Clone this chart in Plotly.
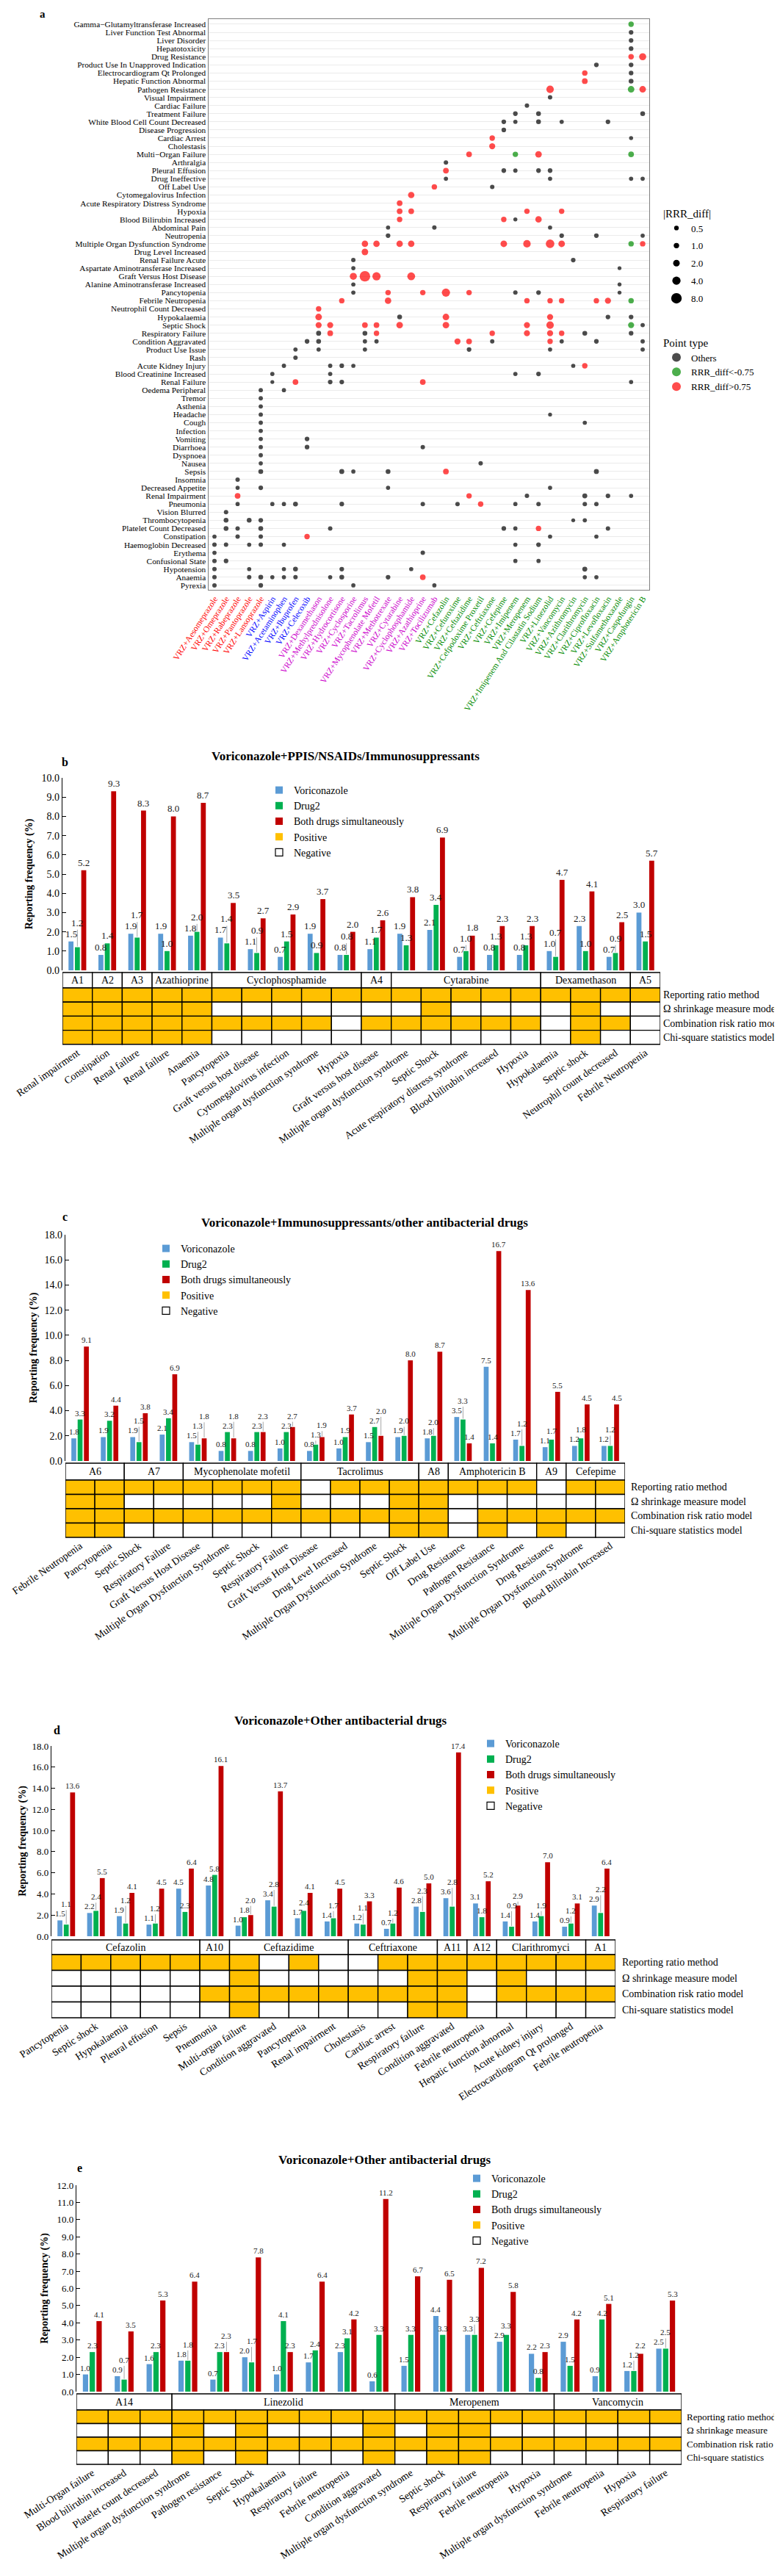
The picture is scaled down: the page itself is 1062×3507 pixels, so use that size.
import math
import plotly.graph_objects as go

W, H = 1062, 3507
SERIF = "Liberation Serif"


def fx(p):
    return p / W


def fy(p):
    return 1 - p / H


# ======================= Panel a data =======================
a_drugs = ["VRZ+Aesomeprazole", "VRZ+Omeprazole", "VRZ+Rabeprazole", "VRZ+Pantoprazole", "VRZ+Lansoprazole",
           "VRZ+Aspirin", "VRZ+Acetaminophen", "VRZ+Ibuprofen", "VRZ+Celecoxib",
           "VRZ+Dexamethason", "VRZ+Methylprednisolone", "VRZ+Hydrocortisone", "VRZ+Cyclosporine",
           "VRZ+Tacrolimus", "VRZ+Mycophenolate Mofetil", "VRZ+Methotrexate", "VRZ+Cytarabine",
           "VRZ+Cyclophosphamide", "VRZ+Azathioprine", "VRZ+Tocilizumab",
           "VRZ+Cefazolin", "VRZ+Cefuroxime", "VRZ+Ceftazidime", "VRZ+Cefpodoxime Proxetil", "VRZ+Ceftriaxone",
           "VRZ+Cefepime", "VRZ+Imipenem", "VRZ+Meropenem", "VRZ+Imipenem And Cilastatin Sodium",
           "VRZ+Linezolid", "VRZ+Vancomycin", "VRZ+Azithromycin", "VRZ+Clarithromycin", "VRZ+Ciprofloxacin",
           "VRZ+Levofloxacin", "VRZ+Sulfamethoxazole", "VRZ+Caspofungin", "VRZ+Amphotericin B"]
a_drug_class = ["PPI", "PPI", "PPI", "PPI", "PPI",
                "NSAID", "NSAID", "NSAID", "NSAID",
                "IMM", "IMM", "IMM", "IMM", "IMM", "IMM", "IMM", "IMM", "IMM", "IMM", "IMM",
                "ABX", "ABX", "ABX", "ABX", "ABX", "ABX", "ABX", "ABX", "ABX", "ABX", "ABX", "ABX",
                "ABX", "ABX", "ABX", "ABX", "ABX", "ABX"]
a_events = ["Gamma−Glutamyltransferase Increased", "Liver Function Test Abnormal", "Liver Disorder",
            "Hepatotoxicity", "Drug Resistance", "Product Use In Unapproved Indication",
            "Electrocardiogram Qt Prolonged", "Hepatic Function Abnormal", "Pathogen Resistance",
            "Visual Impairment", "Cardiac Failure", "Treatment Failure", "White Blood Cell Count Decreased",
            "Disease Progression", "Cardiac Arrest", "Cholestasis", "Multi−Organ Failure", "Arthralgia",
            "Pleural Effusion", "Drug Ineffective", "Off Label Use", "Cytomegalovirus Infection",
            "Acute Respiratory Distress Syndrome", "Hypoxia", "Blood Bilirubin Increased", "Abdominal Pain",
            "Neutropenia", "Multiple Organ Dysfunction Syndrome", "Drug Level Increased", "Renal Failure Acute",
            "Aspartate Aminotransferase Increased", "Graft Versus Host Disease",
            "Alanine Aminotransferase Increased", "Pancytopenia", "Febrile Neutropenia",
            "Neutrophil Count Decreased", "Hypokalaemia", "Septic Shock", "Respiratory Failure",
            "Condition Aggravated", "Product Use Issue", "Rash", "Acute Kidney Injury",
            "Blood Creatinine Increased", "Renal Failure", "Oedema Peripheral", "Tremor", "Asthenia", "Headache",
            "Cough", "Infection", "Vomiting", "Diarrhoea", "Dyspnoea", "Nausea", "Sepsis", "Insomnia",
            "Decreased Appetite", "Renal Impairment", "Pneumonia", "Vision Blurred", "Thrombocytopenia",
            "Platelet Count Decreased", "Constipation", "Haemoglobin Decreased", "Erythema",
            "Confusional State", "Hypotension", "Anaemia", "Pyrexia"]
# drug column numbers (1-based) of the dots on each event row, top to bottom
a_dot_cols = [
    [37], [37], [37], [37], [37, 38], [34, 37], [33, 37], [33, 37], [30, 37, 38], [30],
    [28], [27, 29, 38], [26, 27, 29, 31, 35], [26], [25, 37], [25], [23, 27, 29, 37], [21],
    [21, 26, 27, 29, 30], [21, 30, 37, 38], [20, 25], [18], [17], [17, 18, 28, 31], [17, 26, 27, 29],
    [16, 20, 30], [16, 31, 34, 38], [14, 15, 17, 18, 26, 28, 30, 31, 37, 38], [14], [13, 32], [13, 36],
    [13, 14, 15, 18], [13, 36], [13, 16, 19, 21, 23, 27, 29, 36], [12, 16, 28, 30, 31, 34, 35, 37], [10],
    [10, 17, 21, 30, 35, 37], [10, 11, 14, 15, 17, 21, 28, 30, 37, 38], [10, 11, 14, 15, 25, 28, 30, 31, 33, 37],
    [9, 10, 14, 15, 22, 23, 25, 30, 31, 34, 38], [8, 10, 14, 23, 30, 38], [8], [7, 11, 12, 13, 32, 33],
    [6, 11, 27, 29], [6, 8, 11, 12, 19, 37], [5, 7], [5], [5], [5, 30], [5, 33], [5], [5, 9], [5, 9, 19], [5],
    [5, 24], [5, 12, 13, 16, 21, 34], [3], [3, 5, 16, 30], [3, 23, 28, 33, 35, 37],
    [3, 6, 7, 8, 12, 19, 22, 24, 27, 29, 33, 34], [2], [2, 4, 5, 32, 33], [2, 3, 5, 11, 26, 27, 29, 35],
    [1, 3, 5, 9, 30, 34], [1, 2, 4, 5, 7, 27, 29], [1, 19], [1, 2, 27, 29], [1, 4, 7, 8, 12, 18, 33],
    [1, 4, 5, 6, 7, 8, 11, 12, 16, 19, 33, 34], [1, 5, 13, 20]]
# RRR_diff of those dots (same layout)
a_dot_rrr = [
    [-1.0], [0.5], [0.5], [0.5], [1.0, 2.5], [0.5, 0.5], [1.0, 0.5], [1.2, 0.6], [3.0, -2.0, 2.0], [0.4],
    [0.4], [0.5, 0.6, 0.6], [0.5, 0.35, 0.6, 0.35, 0.5], [0.5], [1.0, 0.25], [1.5], [1.2, -1.0, 2.0, -1.2], [0.4],
    [1.2, 0.5, 0.35, 0.5, 0.5], [0.3, 0.3, 0.3, 0.3], [1.0, 0.4], [1.8], [1.2], [1.2, 1.2, 1.0, 1.0],
    [1.0, 1.0, 0.25, 1.8],
    [0.3, 0.4, 0.3], [0.5, 0.5, 0.5, 0.3], [1.8, 1.8, 1.8, 1.8, 2.0, 3.0, 4.5, 2.0, -1.0, 1.0], [2.0], [0.4, 0.5],
    [0.3, 0.2],
    [2.5, 8.0, 4.0, 3.5], [0.3, 0.2], [0.3, 1.0, 1.0, 4.0, 1.0, 0.4, 0.5, 0.2], [1.0, 1.8, 1.0, 1.0, 1.0, 1.0, 1.5, -1.0],
    [1.0],
    [2.0, 0.6, 2.0, 1.5, 0.5, 0.5], [1.5, 1.5, 1.2, 1.2, 2.0, 2.0, 1.5, 3.0, -1.5, 0.35],
    [0.7, 1.2, 0.6, 1.0, 1.0, 1.5, 1.5, 1.0, 0.6, 0.5],
    [0.5, 0.6, 0.35, 0.35, 1.5, 1.2, 0.35, 1.0, 0.35, 0.5, 0.35], [0.35, 0.35, 0.35, 0.5, 0.3, 0.35], [0.4],
    [0.35, 0.35, 0.5, 0.3, 0.3, 1.0],
    [0.35, 0.35, 0.35, 0.5], [0.2, 1.2, 0.5, 0.5, 1.2, 0.3], [0.35, 0.3], [0.35], [0.35], [0.35, 0.2], [0.35, 0.3],
    [0.35], [0.35, 0.5], [0.35, 0.5, 0.4], [0.35],
    [0.3, 0.4], [0.6, 0.7, 0.3, 0.6, 1.2, 0.7], [0.4], [0.3, 0.5, 0.3, 0.3], [1.2, 1.0, 0.4, 0.7, 0.5, 0.3],
    [0.3, 0.3, 0.3, 0.6, 0.5, 0.4, 0.4, 1.0, 0.3, 0.4, 0.4, 0.4], [0.4], [0.6, 0.6, 0.5, 0.2, 0.3],
    [0.6, 0.4, 0.6, 0.4, 0.5, 0.3, 1.0, 0.4],
    [0.3, 0.4, 0.4, 1.0, 0.3, 0.3], [0.4, 0.4, 0.3, 0.4, 0.3, 0.3, 0.5], [0.3, 0.4], [0.4, 0.5, 0.3, 0.3],
    [0.4, 0.3, 0.3, 0.6, 0.5, 0.3, 0.7],
    [0.4, 0.4, 0.6, 0.3, 0.3, 0.4, 0.3, 0.6, 0.5, 1.2, 0.3, 0.3], [0.4, 0.5, 0.3, 0.3]]
a_size_breaks = [0.5, 1.0, 2.0, 4.0, 8.0]
a_point_types = ["Others", "RRR_diff<-0.75", "RRR_diff>0.75"]

# ======================= Panel b data =======================
b_events = ["Renal impairment", "Constipation", "Renal failure", "Renal failure", "Anaemia", "Pancytopenia",
            "Graft versus host disease", "Cytomegalovirus infection", "Multiple organ dysfunction syndrome",
            "Hypoxia", "Graft versus host disease", "Multiple organ dysfunction syndrome", "Septic Shock",
            "Acute respiratory distress syndrome", "Blood bilirubin increased", "Hypoxia", "Hypokalaemia",
            "Septic shock", "Neutrophil count decreased", "Febrile Neutropenia"]
b_vori = [1.5, 0.8, 1.9, 1.9, 1.8, 1.7, 1.1, 0.7, 1.9, 0.8, 1.1, 1.9, 2.1, 0.7, 0.8, 0.8, 1.0, 2.3, 0.7, 3.0]
b_drug2 = [1.2, 1.4, 1.7, 1.0, 2.0, 1.4, 0.9, 1.5, 0.9, 0.8, 1.7, 1.3, 3.4, 1.0, 1.3, 1.3, 0.7, 1.0, 0.9, 1.5]
b_both = [5.2, 9.3, 8.3, 8.0, 8.7, 3.5, 2.7, 2.9, 3.7, 2.0, 2.6, 3.8, 6.9, 1.8, 2.3, 2.3, 4.7, 4.1, 2.5, 5.7]
b_groups = ["A1", "A2", "A3", "Azathioprine", "Cyclophosphamide", "A4", "Cytarabine", "Dexamethason", "A5"]
b_spans = [1, 1, 1, 2, 5, 1, 5, 3, 1]
b_ror = [1, 1, 1, 1, 1, 1, 1, 1, 1, 1, 1, 1, 1, 1, 1, 1, 1, 1, 1, 1]
b_omega = [1, 1, 1, 1, 1, 0, 0, 0, 0, 0, 0, 0, 1, 0, 0, 0, 0, 1, 0, 0]
b_crr = [1, 1, 1, 1, 1, 1, 1, 1, 1, 0, 1, 1, 1, 1, 1, 1, 0, 1, 1, 0]
b_chi = [1, 1, 1, 1, 1, 0, 0, 0, 0, 0, 0, 0, 0, 0, 0, 0, 0, 1, 0, 0]

# ======================= Panel c data =======================
c_events = ["Febrile Neutropenia", "Pancytopenia", "Septic Shock", "Respiratory Failure",
            "Graft Versus Host Disease", "Multiple Organ Dysfunction Syndrome", "Septic Shock",
            "Respiratory Failure", "Graft Versus Host Disease", "Drug Level Increased",
            "Multiple Organ Dysfunction Syndrome", "Septic Shock", "Off Label Use", "Drug Resistance",
            "Pathogen Resistance", "Multiple Organ Dysfunction Syndrome", "Drug Resistance",
            "Multiple Organ Dysfunction Syndrome", "Blood Bilirubin Increased"]
c_vori = [1.8, 1.9, 1.9, 2.1, 1.5, 0.8, 0.8, 1.0, 0.8, 1.0, 1.5, 1.9, 1.8, 3.5, 7.5, 1.7, 1.1, 1.2, 1.2]
c_drug2 = [3.3, 3.2, 1.5, 3.4, 1.3, 2.3, 2.3, 2.3, 1.3, 1.9, 2.7, 2.0, 2.0, 3.3, 1.4, 1.2, 1.7, 1.8, 1.2]
c_both = [9.1, 4.4, 3.8, 6.9, 1.8, 1.8, 2.3, 2.7, 1.9, 3.7, 2.0, 8.0, 8.7, 1.4, 16.7, 13.6, 5.5, 4.5, 4.5]
c_groups = ["A6", "A7", "Mycophenolate mofetil", "Tacrolimus", "A8", "Amphotericin B", "A9", "Cefepime"]
c_spans = [2, 2, 4, 4, 1, 3, 1, 2]
c_ror = [1, 1, 1, 1, 1, 1, 1, 1, 0, 1, 1, 1, 1, 1, 1, 1, 0, 1, 1]
c_omega = [1, 1, 0, 0, 0, 0, 0, 1, 0, 0, 0, 1, 1, 0, 0, 0, 0, 0, 0]
c_crr = [1, 1, 1, 1, 1, 1, 1, 1, 1, 1, 1, 1, 1, 0, 1, 1, 1, 1, 1]
c_chi = [1, 1, 0, 0, 0, 0, 0, 0, 0, 0, 0, 1, 1, 0, 1, 0, 1, 0, 0]

# ======================= Panel d data =======================
d_events = ["Pancytopenia", "Septic shock", "Hypokalaemia", "Pleural effusion", "Sepsis", "Pneumonia",
            "Multi-organ failure", "Condition aggravated", "Pancytopenia", "Renal impairment", "Cholestasis",
            "Cardiac arrest", "Respiratory failure", "Condition aggravated", "Febrile neutropenia",
            "Hepatic function abnormal", "Acute kidney injury", "Electrocardiogram Qt prolonged",
            "Febrile neutropenia"]
d_vori = [1.5, 2.2, 1.9, 1.1, 4.5, 4.8, 1.0, 3.4, 1.7, 1.4, 1.2, 0.7, 2.8, 3.6, 3.1, 1.4, 1.4, 0.9, 2.9]
d_drug2 = [1.1, 2.4, 1.2, 1.2, 2.3, 5.8, 1.8, 2.8, 2.4, 1.7, 1.1, 1.2, 2.3, 2.8, 1.8, 0.9, 1.9, 1.2, 2.2]
d_both = [13.6, 5.5, 4.1, 4.5, 6.4, 16.1, 2.0, 13.7, 4.1, 4.5, 3.3, 4.6, 5.0, 17.4, 5.2, 2.9, 7.0, 3.1, 6.4]
d_groups = ["Cefazolin", "A10", "Ceftazidime", "Ceftriaxone", "A11", "A12", "Clarithromyci", "A1"]
d_spans = [5, 1, 4, 3, 1, 1, 3, 1]
d_ror = [1, 1, 1, 1, 1, 1, 1, 0, 1, 0, 0, 1, 1, 1, 1, 1, 1, 1, 1]
d_omega = [0, 0, 0, 0, 0, 0, 1, 0, 0, 0, 0, 0, 1, 1, 0, 1, 0, 0, 0]
d_crr = [0, 0, 0, 0, 0, 1, 1, 1, 1, 1, 1, 1, 1, 1, 0, 1, 1, 1, 1]
d_chi = [0, 0, 0, 0, 0, 0, 1, 0, 0, 0, 0, 0, 1, 1, 0, 0, 0, 0, 0]

# ======================= Panel e data =======================
e_events = ["Multi-Organ failure", "Blood bilirubin increased", "Platelet count decreased",
            "Multiple organ dysfunction syndrome", "Pathogen resistance", "Septic Shock", "Hypokalaemia",
            "Respiratory failure", "Febrile neutropenia", "Condition aggravated",
            "Multiple organ dysfunction syndrome", "Septic shock", "Respiratory failure", "Febrile neutropenia",
            "Hypoxia", "Multiple organ dysfunction syndrome", "Febrile neutropenia", "Hypoxia",
            "Respiratory failure"]
e_vori = [1.0, 0.9, 1.6, 1.8, 0.7, 2.0, 1.0, 1.7, 2.3, 0.6, 1.5, 4.4, 3.3, 2.9, 2.2, 2.9, 0.9, 1.2, 2.5]
e_drug2 = [2.3, 0.7, 2.3, 1.8, 2.3, 1.7, 4.1, 2.4, 3.1, 3.3, 3.3, 3.3, 3.3, 3.3, 0.8, 1.5, 4.2, 1.2, 2.5]
e_both = [4.1, 3.5, 5.3, 6.4, 2.3, 7.8, 2.3, 6.4, 4.2, 11.2, 6.7, 6.5, 7.2, 5.8, 2.3, 4.2, 5.1, 2.2, 5.3]
e_groups = ["A14", "Linezolid", "Meropenem", "Vancomycin"]
e_spans = [3, 7, 5, 4]
e_ror = [1, 1, 1, 1, 1, 1, 1, 1, 1, 1, 1, 1, 1, 1, 1, 1, 1, 1, 1]
e_omega = [0, 0, 0, 1, 0, 1, 0, 0, 0, 1, 0, 1, 1, 0, 0, 0, 0, 0, 0]
e_crr = [1, 1, 1, 1, 1, 1, 1, 1, 1, 1, 1, 1, 1, 1, 1, 1, 1, 1, 1]
e_chi = [0, 0, 0, 1, 0, 1, 0, 0, 0, 1, 0, 1, 1, 0, 0, 0, 0, 0, 0]

model_labels = ["Reporting ratio method", "Ω shrinkage measure model", "Combination risk ratio model",
                "Chi-square statistics model"]
model_labels_short = ["Reporting ratio method", "Ω shrinkage measure", "Combination risk ratio",
                      "Chi-square statistics"]

# ======================= styling =======================
CLASS_COLOR = {"PPI": "#FF0000", "NSAID": "#0000FF", "IMM": "#CC00CC", "ABX": "#008B00"}
TYPE_COLOR = {"Others": "#000000", "RRR_diff<-0.75": "#008B00", "RRR_diff>0.75": "#FF0000"}
BLUE, GREEN, DRED, YELLOW = "#5B9BD5", "#00B050", "#C00000", "#FFC000"
BARGAP, BARGROUPGAP = 0.36, 0.22

fig = go.Figure()
shapes = []
annotations = []


def dot_size(v):
    return 3.6 + 3.8 * math.sqrt(abs(v))


def point_type(v):
    if v > 0.75:
        return "RRR_diff>0.75"
    if v < -0.75:
        return "RRR_diff<-0.75"
    return "Others"


def note(text, x, y, size, xref="paper", xanchor="center", yanchor="middle", **kw):
    annotations.append(dict(text=text, x=x, y=y, xref=xref, yref="paper", showarrow=False,
                            xanchor=xanchor, yanchor=yanchor,
                            font=dict(family=SERIF, size=size, color=kw.pop("color", "black")), **kw))


# ---------- panel a ----------
px_, py_, pv_ = [], [], []
for r, (cols, vals) in enumerate(zip(a_dot_cols, a_dot_rrr), start=1):
    for c, v in zip(cols, vals):
        px_.append(c)
        py_.append(r)
        pv_.append(v)

for t in a_point_types:
    idx = [i for i, v in enumerate(pv_) if point_type(v) == t]
    fig.add_trace(go.Scatter(
        x=[px_[i] for i in idx], y=[py_[i] for i in idx], mode="markers", name=t,
        marker=dict(color=TYPE_COLOR[t], size=[dot_size(pv_[i]) for i in idx], line_width=0),
        xaxis="x", yaxis="y", legend="legend", hoverinfo="skip"))

for b in a_size_breaks:
    fig.add_trace(go.Scatter(
        x=[None], y=[None], mode="markers", name=f"{b:.1f}", legendgroup=f"s{b}",
        marker=dict(color="black", size=dot_size(b)), xaxis="x", yaxis="y", legend="legend2"))

a_ticktext = [f"<span style='color:{CLASS_COLOR[c]}'>{d}</span>" for d, c in zip(a_drugs, a_drug_class)]
layout = dict(
    xaxis=dict(domain=[fx(275.5), fx(876)], range=[0.46, len(a_drugs) + 0.57], anchor="y",
               tickvals=list(range(1, len(a_drugs) + 1)), ticktext=a_ticktext, tickangle=-57,
               tickfont=dict(family=SERIF, size=11.5), showgrid=False, zeroline=False, showline=True,
               mirror=True, linecolor="#7F7F7F", linewidth=1, ticks="", automargin=False),
    yaxis=dict(domain=[fy(795), fy(18)], range=[len(a_events) + 0.55, 0.37], anchor="x",
               tickvals=list(range(1, len(a_events) + 1)), ticktext=a_events,
               tickfont=dict(family=SERIF, size=11.3, color="black"), showgrid=True, gridcolor="#EBEBEB",
               gridwidth=1, zeroline=False, showline=True, mirror=True, linecolor="#7F7F7F", linewidth=1,
               ticks="", automargin=False),
    legend=dict(x=fx(893), y=fy(444), xanchor="left", yanchor="top", title=dict(text="Point type",
                font=dict(family=SERIF, size=15)), font=dict(family=SERIF, size=13), itemsizing="constant",
                bgcolor="rgba(0,0,0,0)", itemwidth=30, tracegroupgap=4),
    legend2=dict(x=fx(893), y=fy(268), xanchor="left", yanchor="top", title=dict(text="|RRR_diff|",
                 font=dict(family=SERIF, size=15)), font=dict(family=SERIF, size=13), itemsizing="trace",
                 bgcolor="rgba(0,0,0,0)", itemwidth=30, tracegroupgap=4),
)
note("<b>a</b>", fx(50), fy(1), 15, yanchor="top")


# ---------- bar panels ----------
def bar_panel(k, ev, v1, v2, v3, groups, spans, states, rlabels, title, letter, g):
    n = len(ev)
    xs = list(range(n))
    xr, yr = f"x{k}", f"y{k}"
    series = (("Voriconazole", v1, BLUE), ("Drug2", v2, GREEN), ("Both drugs simultaneously", v3, DRED))
    for name, vals, col in series:
        fig.add_trace(go.Bar(
            x=xs, y=vals, name=name, showlegend=False, marker=dict(color=col, line_width=0),
            xaxis=xr, yaxis=yr, hoverinfo="skip"))
    for name, col, lc, lw in (("Voriconazole", BLUE, BLUE, 0), ("Drug2", GREEN, GREEN, 0),
                              ("Both drugs simultaneously", DRED, DRED, 0), ("Positive", YELLOW, YELLOW, 0),
                              ("Negative", "white", "black", 1.2)):
        fig.add_trace(go.Scatter(
            x=[None], y=[None], mode="markers", name=name, legend=f"legend{k + 1}",
            marker=dict(symbol="square", size=10, color=col, line=dict(color=lc, width=lw)),
            xaxis=xr, yaxis=yr))

    # value labels, staggered upward when neighbouring labels would collide (leader lines like Excel)
    ppu = (g["yzero"] - g["ytop"]) / g["ymax"]
    slot = (1 - BARGAP) / 3
    pitch = slot * (g["x1"] - g["x0"]) / n
    th = g["vfs"] + 1
    for i in range(n):
        placed = []
        for j, (_, vals, _) in enumerate(series):
            v = vals[i]
            txt = f"{v:.1f}"
            lw_ = 0.5 * g["vfs"] * len(txt) + 1
            bar_top = g["yzero"] - v * ppu
            bottom = bar_top - 2
            moved = True
            while moved:
                moved = False
                for pj, pb, pw in placed:
                    if abs(j - pj) * pitch < (lw_ + pw) / 2 and bottom > pb - th and bottom - th < pb:
                        bottom = pb - th - 1
                        moved = True
            placed.append((j, bottom, lw_))
            xc = i + (j - 1) * slot
            note(txt, xc, fy(bottom), g["vfs"], xref=xr, yanchor="bottom", borderpad=0, color="#1a1a1a")
            if bar_top - bottom > 6:
                shapes.append(dict(type="line", xref=xr, yref="paper", x0=xc, x1=xc, y0=fy(bar_top - 1),
                                   y1=fy(bottom + 1), line=dict(color="#A6A6A6", width=1), layer="above"))

    top, hh, rh = g["head_top"], g["head_h"], g["row_h"]
    bottom_tbl = top + hh + 4 * rh
    layout[f"xaxis{k}"] = dict(
        domain=[fx(g["x0"]), fx(g["x1"])], range=[-0.5, n - 0.5], anchor="free", position=fy(bottom_tbl),
        tickvals=xs, ticktext=ev, tickangle=g["angle"], tickfont=dict(family=SERIF, size=g["xfs"], color="black"),
        showline=False, showgrid=False, zeroline=False, ticks="", automargin=False)
    layout[f"yaxis{k}"] = dict(
        domain=[fy(g["yzero"]), fy(g["ytop"])], range=[0, g["ymax"]], anchor=xr, dtick=g["dtick"],
        tickformat=".1f", ticks="inside", ticklen=5, tickcolor="black", showline=True, linecolor="black",
        linewidth=1.3, showgrid=False, zeroline=False, tickfont=dict(family=SERIF, size=g["tfs"], color="black"),
        title=dict(text="<b>Reporting frequency (%)</b>", font=dict(family=SERIF, size=14, color="black"),
                   standoff=g["standoff"]), automargin=False)
    layout[f"legend{k + 1}"] = dict(
        x=fx(g["leg_x"]), y=fy(g["leg_y"]), xanchor="left", yanchor="top",
        font=dict(family=SERIF, size=14, color="black"), bgcolor="rgba(0,0,0,0)", itemwidth=30,
        tracegroupgap=0)

    def rect(x0, x1, y0, y1, fill):
        shapes.append(dict(type="rect", xref=xr, yref="paper", x0=x0, x1=x1, y0=fy(y1), y1=fy(y0),
                           fillcolor=fill, line=dict(color="black", width=1.4), layer="above"))

    start = 0
    for name, s in zip(groups, spans):
        x0, x1 = start - 0.5, start + s - 0.5
        rect(x0, x1, top, top + hh, "white")
        note(name, (x0 + x1) / 2, fy(top + hh / 2), 14, xref=xr)
        start += s
    for r, row in enumerate(states):
        y0 = top + hh + r * rh
        for i, st in enumerate(row):
            rect(i - 0.5, i + 0.5, y0, y0 + rh, YELLOW if st else "white")
        note(rlabels[r], fx(g["lab_x"]), fy(y0 + rh / 2), g["lfs"], xanchor="left")
    note(f"<b>{title}</b>", fx(g["title_x"]), fy(g["title_y"]), 17)
    note(f"<b>{letter}</b>", fx(g["let_x"]), fy(g["let_y"]), 16)


bar_panel(2, b_events, b_vori, b_drug2, b_both, b_groups, b_spans, [b_ror, b_omega, b_crr, b_chi],
          model_labels, "Voriconazole+PPIS/NSAIDs/Immunosuppressants", "b",
          dict(x0=77, x1=891, ytop=1051, yzero=1313, ymax=10, dtick=1, tfs=14, vfs=13, xfs=14, angle=-35,
               head_top=1316, head_h=21, row_h=19.2, lab_x=893, lfs=14, leg_x=352, leg_y=1052, title_x=462,
               title_y=1022, let_x=80, let_y=1029, standoff=8))
bar_panel(3, c_events, c_vori, c_drug2, c_both, c_groups, c_spans, [c_ror, c_omega, c_crr, c_chi],
          model_labels, "Voriconazole+Immunosuppressants/other antibacterial drugs", "c",
          dict(x0=81, x1=843, ytop=1673, yzero=1981, ymax=18, dtick=2, tfs=14, vfs=11, xfs=14, angle=-35,
               head_top=1984, head_h=23, row_h=19.5, lab_x=849, lfs=14, leg_x=198, leg_y=1676, title_x=488,
               title_y=1656, let_x=80, let_y=1649, standoff=6))
bar_panel(4, d_events, d_vori, d_drug2, d_both, d_groups, d_spans, [d_ror, d_omega, d_crr, d_chi],
          model_labels, "Voriconazole+Other antibacterial drugs", "d",
          dict(x0=62, x1=830, ytop=2369, yzero=2628, ymax=18, dtick=2, tfs=13, vfs=11, xfs=14, angle=-33,
               head_top=2633, head_h=20, row_h=21.5, lab_x=837, lfs=14, leg_x=640, leg_y=2350, title_x=456,
               title_y=2334, let_x=69, let_y=2347, standoff=4))
bar_panel(5, e_events, e_vori, e_drug2, e_both, e_groups, e_spans, [e_ror, e_omega, e_crr, e_chi],
          model_labels_short, "Voriconazole+Other antibacterial drugs", "e",
          dict(x0=96, x1=920, ytop=2967, yzero=3248, ymax=12, dtick=1, tfs=13, vfs=11, xfs=14, angle=-33,
               head_top=3251, head_h=22, row_h=18.5, lab_x=925, lfs=13, leg_x=621, leg_y=2942, title_x=516,
               title_y=2932, let_x=100, let_y=2943, standoff=8))

fig.update_layout(**layout)
fig.update_layout(
    width=W, height=H, margin=dict(l=0, r=0, t=0, b=0), paper_bgcolor="white", plot_bgcolor="white",
    barmode="group", bargap=BARGAP, bargroupgap=BARGROUPGAP, showlegend=True,
    font=dict(family=SERIF, color="black"), shapes=shapes, annotations=annotations)

fig.write_html("out.html")
